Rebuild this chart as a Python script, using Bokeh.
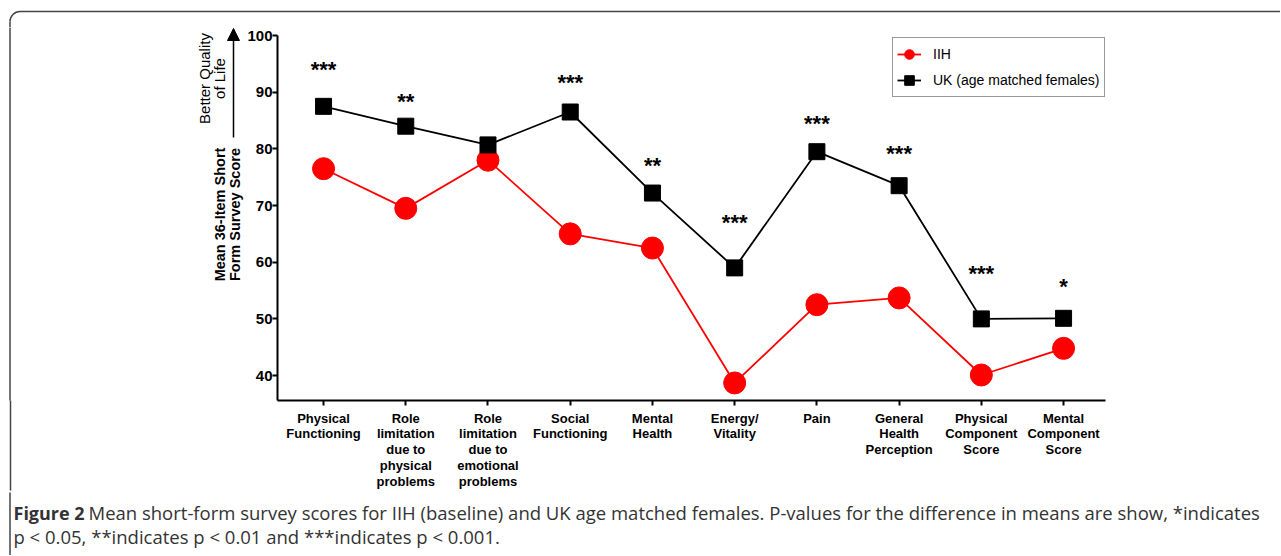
import math
from bokeh.plotting import figure
from bokeh.layouts import column, row
from bokeh.models import (Range1d, FixedTicker, Arrow, NormalHead, Legend,
                          LegendItem, ColumnDataSource, LinearAxis)
from bokeh.core.properties import value
from bokeh.embed import file_html
from bokeh.resources import INLINE

# ---------------- data ----------------
categories = ["Physical\nFunctioning",
              "Role\nlimitation\ndue to\nphysical\nproblems",
              "Role\nlimitation\ndue to\nemotional\nproblems",
              "Social\nFunctioning",
              "Mental\nHealth",
              "Energy/\nVitality",
              "Pain",
              "General\nHealth\nPerception",
              "Physical\nComponent\nScore",
              "Mental\nComponent\nScore"]
iih = [76.5, 69.5, 78.0, 65.0, 62.5, 38.7, 52.5, 53.7, 40.1, 44.8]
uk = [87.5, 84.0, 80.7, 86.5, 72.2, 59.0, 79.5, 73.5, 50.0, 50.1]
significance = ["***", "**", "", "***", "**", "***", "***", "***", "***", "*"]
star_y = [94.4, 88.7, 92.0, 92.0, 77.4, 67.4, 84.8, 79.5, 58.4, 56.0]
y_ticks = [40, 50, 60, 70, 80, 90, 100]
series_names = ["IIH", "UK (age matched females)"]
y_title = ["Mean 36-Item Short", "Form Survey Score"]
y_note = ["Better Quality", "of Life"]
caption_title = "Figure 2"
caption_line1 = (" Mean short-form survey scores for IIH (baseline) and UK age matched females. "
                 "P-values for the difference in means are show, *indicates")
caption_line2 = "p < 0.05, **indicates p < 0.01 and ***indicates p < 0.001."

FONT = "Liberation Sans"
CAP_FONT = "Open Sans"
BORDER = "#444444"

idx = list(range(len(categories)))

# ---------------- page geometry (px) ----------------
PW = 1280
ROW_TOP, ROW_BOT = 27, 492          # row of left strip + chart
LEFT_W = 244
FL, FT, FR, FB = 276, 27, 1105, 400  # chart frame edges in page px
CAP_H = 63
BX = 9.5                             # x of the figure border's left edge


def blank(width, height, page_left, page_top, bottom_border=0):
    """Figure whose frame spans its width; data units = page pixels (y negated)."""
    f = figure(width=width, height=height, output_backend="svg",
               toolbar_location=None, min_border=0,
               min_border_bottom=bottom_border,
               x_range=Range1d(page_left, page_left + width),
               y_range=Range1d(-(page_top + height - bottom_border), -page_top),
               x_axis_location=None, y_axis_location=None)
    f.grid.visible = False
    f.outline_line_color = None
    f.background_fill_color = "white"
    f.border_fill_color = "white"
    return f


# ---------------- top strip (rounded corner of the figure border) ----------------
top = blank(PW, ROW_TOP, 0, 0)
R = 10
top.arc(x=[BX + R], y=[-(11 + R)], radius=R, start_angle=math.pi / 2,
        end_angle=math.pi, line_color=BORDER, line_width=1.5)
top.segment(x0=[BX + R], y0=[-11], x1=[PW + 5], y1=[-11], line_color=BORDER, line_width=1.5)
top.segment(x0=[BX], y0=[-(11 + R)], x1=[BX], y1=[-(ROW_TOP + 2)], line_color=BORDER,
            line_width=1.5)

# ---------------- left strip (y axis title, arrow) ----------------
left = blank(LEFT_W, ROW_BOT - ROW_TOP, 0, ROW_TOP, bottom_border=ROW_BOT - FB)
left.segment(x0=[BX], y0=[-(ROW_TOP - 2)], x1=[BX], y1=[-(FB + 2)],
             line_color=BORDER, line_width=1.5)
# continuation of the border line below the frame, drawn as a long tick
edge = LinearAxis(ticker=FixedTicker(ticks=[BX]), axis_line_color=None,
                  major_tick_in=0, major_tick_out=ROW_BOT - FB - 2,
                  major_tick_line_color=BORDER, major_tick_line_width=1.5,
                  minor_tick_line_color=None, major_label_standoff=0,
                  major_label_text_font_size="0px", major_label_overrides={BX: ""})
left.add_layout(edge, "below")
left.text(x=[219, 234], y=[-214, -214], text=y_title, angle=math.pi / 2,
          text_font=value(FONT), text_font_style="bold", text_font_size="14.5px",
          text_align="center", text_baseline="middle", text_color="black")
left.text(x=[204, 219], y=[-78, -78], text=y_note, angle=math.pi / 2,
          text_font=value(FONT), text_font_size="15px",
          text_align="center", text_baseline="middle", text_color="black")
left.add_layout(Arrow(x_start=233, y_start=-137, x_end=233, y_end=-28, line_width=1.5,
                      end=NormalHead(size=12, fill_color="black", line_color="black")))

# ---------------- main chart ----------------
MW = PW - LEFT_W
MH = ROW_BOT - ROW_TOP
PX_PER_UNIT = (FB - 35) / (100 - 35.6)
p = figure(width=MW, height=MH, output_backend="svg", toolbar_location=None,
           x_range=Range1d(-0.56, 9.51),
           y_range=Range1d(35.6, 100 + (35 - FT) / PX_PER_UNIT),
           min_border_left=FL - LEFT_W, min_border_right=PW - FR,
           min_border_top=FT - ROW_TOP, min_border_bottom=ROW_BOT - FB)
p.outline_line_color = None
p.xgrid.visible = False
p.ygrid.visible = False
p.background_fill_color = "white"
p.border_fill_color = "white"

for ax in (p.xaxis[0], p.yaxis[0]):
    ax.axis_line_width = 2
    ax.axis_line_color = "black"
    ax.major_tick_line_width = 2
    ax.major_tick_line_color = "black"
    ax.major_tick_in = 0
    ax.major_tick_out = 5
    ax.minor_tick_line_color = None
    ax.major_label_text_font = FONT
    ax.major_label_text_font_style = "bold"
    ax.major_label_text_color = "black"

p.yaxis.ticker = FixedTicker(ticks=y_ticks)
p.yaxis.bounds = (35.6, 100)
p.yaxis.major_label_text_font_size = "15px"
p.yaxis.major_label_standoff = 0

p.xaxis.ticker = FixedTicker(ticks=idx)
p.xaxis.major_label_overrides = {i: c for i, c in zip(idx, categories)}
p.xaxis.major_label_text_font_size = "13px"
p.xaxis.major_label_text_line_height = 1.05
p.xaxis.major_label_standoff = 5

src = ColumnDataSource(dict(x=idx, iih=iih, uk=uk, sig=significance, sy=star_y))
l1 = p.line("x", "iih", source=src, line_color="red", line_width=1.8)
m1 = p.scatter("x", "iih", source=src, marker="circle", size=22,
               fill_color="red", line_color="red")
l2 = p.line("x", "uk", source=src, line_color="black", line_width=1.8)
m2 = p.scatter("x", "uk", source=src, marker="square", size=16,
               fill_color="black", line_color="black")

p.text("x", "sy", text="sig", source=src, text_font=value(FONT),
       text_font_style="bold", text_font_size="22px", text_align="center",
       text_baseline="middle", y_offset=2, text_color="black")

legend = Legend(items=[LegendItem(label=series_names[0], renderers=[l1, m1]),
                       LegendItem(label=series_names[1], renderers=[l2, m2])],
                location=(891 - FL, FB - 97), margin=0, padding=4, spacing=2,
                glyph_width=24, glyph_height=24, label_standoff=12,
                label_text_font=FONT, label_text_font_size="14px",
                label_text_color="black", border_line_color="#333333",
                border_line_width=1.2, background_fill_alpha=1.0)
p.add_layout(legend, "center")

# ---------------- caption strip ----------------
cap = blank(PW, CAP_H, 0, ROW_BOT)
cap.segment(x0=[BX], y0=[-(ROW_BOT - 2)], x1=[BX], y1=[-(ROW_BOT + CAP_H + 2)],
            line_color=BORDER, line_width=1.5)
cap.text(x=[13], y=[-512], text=[caption_title], text_font=value(CAP_FONT),
         text_font_style="bold", text_font_size="18px", text_color="#333333",
         text_align="left", text_baseline="alphabetic")
cap.text(x=[88, 13], y=[-512, -536], text=[caption_line1, caption_line2],
         text_font=value(CAP_FONT), text_font_size="18.5px", text_color="#333333",
         text_align="left", text_baseline="alphabetic")

layout = column(top, row(left, p), cap)
open("out.html", "w").write(file_html(layout, INLINE))
